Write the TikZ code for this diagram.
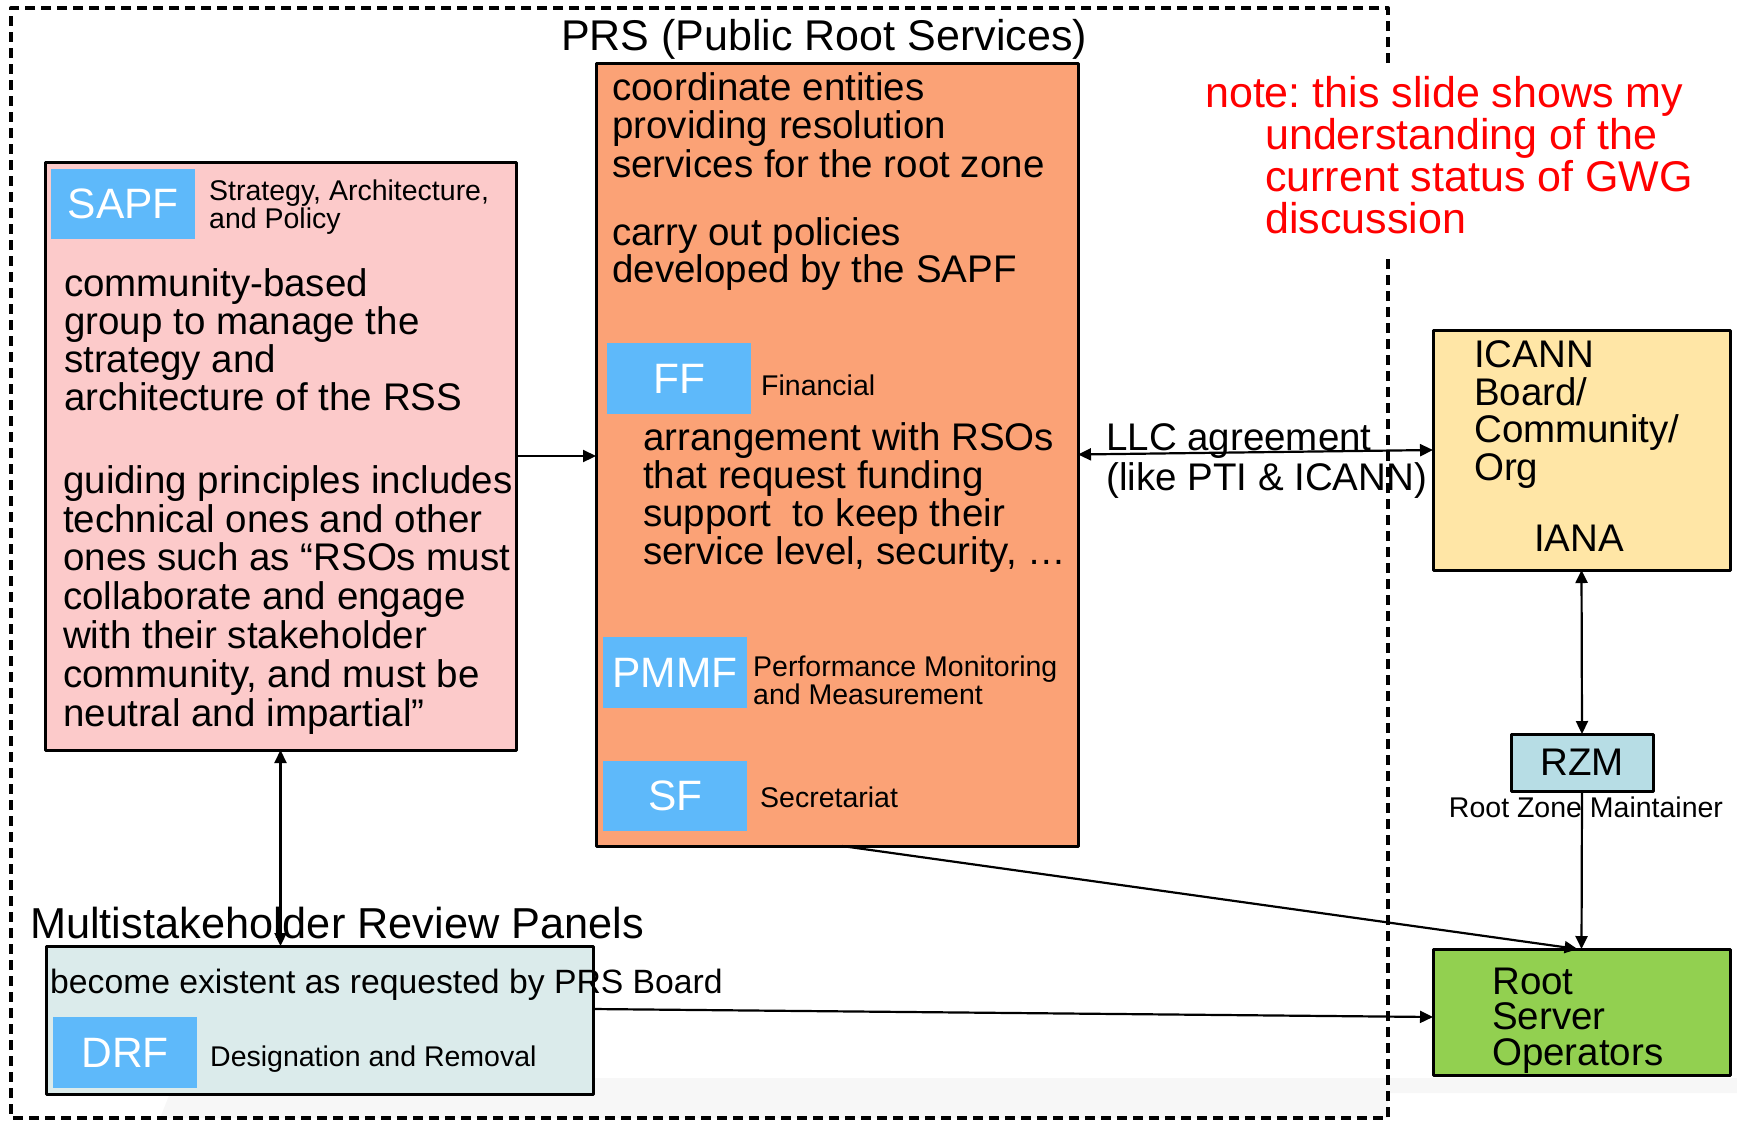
\documentclass[tikz,border=0pt]{standalone}
\usepackage{fontspec}
\setmainfont{Liberation Sans}
\usetikzlibrary{arrows.meta}
\definecolor{sapfpink}{RGB}{252,202,202}
\definecolor{prsorange}{RGB}{251,162,118}
\definecolor{tagblue}{RGB}{94,185,250}
\definecolor{icannyellow}{RGB}{255,230,166}
\definecolor{rzmblue}{RGB}{183,221,229}
\definecolor{rsogreen}{RGB}{146,208,80}
\definecolor{mrpgray}{RGB}{219,235,235}
\newcommand\fs[2]{\fontsize{#1}{#2}\selectfont}
\frenchspacing
\begin{document}
\begin{tikzpicture}[x=1pt,y=-1pt,line join=round,>={Triangle[length=13pt,width=12pt]},
	box/.style={draw,line width=3pt,anchor=north west,inner sep=0,outer sep=0},
	tag/.style={fill=tagblue,text=white,font=\fs{42.5}{42.5},minimum width=144pt,
		minimum height=70pt,anchor=north west,inner sep=0},
	txt/.style={inner sep=0,align=left,anchor=base west},
	big/.style={font=\fs{38.5}{38.5}},
	small/.style={font=\fs{28.5}{28}},
	conn/.style={line width=2.2pt}]
	\useasboundingbox (0,0) rectangle (1737,1120);
	% faint shadow of the slide
	\fill[black!3] (160,1118) -- (176,1078) -- (1737,1078) -- (1737,1093)
	-- (1388,1093) -- (1388,1118) -- cycle;
	% PRS frame
	\draw[line width=3.3pt,dash pattern=on 10pt off 6pt] (1388,63) -- (1388,8)
	-- (11,8) -- (11,1118) -- (1388,1118) -- (1388,259);
	\node[txt,font=\fs{43}{43}] (title) at (561,50) {PRS (Public Root Services)};
	
	% boxes
	\node[box,fill=sapfpink,minimum width=471pt,minimum height=588pt] (sapf) at (45,162) {};
	\node[box,fill=prsorange,minimum width=482pt,minimum height=783pt] (prs) at (596,63) {};
	\node[box,fill=icannyellow,minimum width=297pt,minimum height=240pt] (icann) at (1433,330) {};
	\node[box,fill=rzmblue,minimum width=142pt,minimum height=57pt,big] (rzm) at (1511,734) {RZM};
	\node[box,fill=rsogreen,minimum width=297pt,minimum height=126pt] (rso) at (1433,949) {};
	\node[box,fill=mrpgray,minimum width=547pt,minimum height=148pt] (mrp) at (46,946) {};
	
	% SAPF
	\node[tag] (sapftag) at (51,169) {SAPF};
	\node[txt,small] (sapfname) at (209,228) {Strategy, Architecture,\\and Policy};
	\node[txt,font=\fs{38.5}{37.8}] (sapfa) at (64,410) {community-based\\group to manage the\\strategy and\\architecture of the RSS};
	\node[txt,font=\fs{38.5}{38.8}] (sapfb) at (63,726) {guiding principles includes\\technical ones and other\\ones such as “RSOs must\\collaborate and engage\\with their stakeholder\\community, and must be\\neutral and impartial”};
	
	% PRS
	\node[txt,font=\fs{38.5}{38.3}] (prsa) at (612,177) {coordinate entities\\providing resolution\\services for the root zone};
	\node[txt,font=\fs{38.5}{37}] (prsb) at (612,282) {carry out policies\\developed by the SAPF};
	\node[tag,minimum height=71pt] (fftag) at (607,343) {FF};
	\node[txt,small] (ffname) at (761,395) {Financial};
	\node[txt,font=\fs{38.5}{38}] (ffa) at (643,564) {arrangement with RSOs\\that request funding\\support \ to keep their\\service level, security, …};
	\node[tag,minimum height=71pt] (pmmftag) at (603,637) {PMMF};
	\node[txt,small] (pmmfname) at (753,704) {Performance Monitoring\\and Measurement};
	\node[tag] (sftag) at (603,761) {SF};
	\node[txt,small] (sfname) at (760,807) {Secretariat};
	
	% note
	\node[txt,text=red,font=\fs{43}{42}] (note) at (1205,233) {note: this slide shows my\\\hspace*{60pt}understanding of the\\\hspace*{60pt}current status of GWG\\\hspace*{60pt}discussion};
	
	% ICANN, RZM, RSO
	\node[txt,font=\fs{38.5}{37.5}] (icanna) at (1474,480) {ICANN\\Board/\\Community/\\Org};
	\node[inner sep=0,anchor=base,big] (iana) at (1579,551) {IANA};
	\node[inner sep=0,anchor=base,small] (rzmname) at (1586,817) {Root Zone Maintainer};
	\node[txt,font=\fs{38.5}{35.3}] (rsoa) at (1492,1065) {Root\\Server\\Operators};
	\node[txt,font=\fs{38.5}{40}] (llc) at (1106,490) {LLC agreement\\(like PTI \& ICANN)};
	
	% MRP
	\node[txt,font=\fs{43.3}{43.3}] (mrptitle) at (30,938) {Multistakeholder Review Panels};
	\node[txt,font=\fs{33.7}{33.7}] (mrpa) at (50,993) {become existent as requested by PRS Board};
	\node[tag,minimum height=71pt] (drftag) at (53,1017) {DRF};
	\node[txt,small] (drfname) at (210,1066) {Designation and Removal};
	
	% connectors
	\draw[conn,->] (sapf.east) -- (prs.west |- sapf.east);
	\draw[conn,<->] (prs.east) -- (icann.west);
	\draw[conn,<->] (icann.south) -- (rzm.north);
	\draw[conn,->] (rzm.south) -- (rso.north);
	\draw[conn,->] ([xshift=5pt]prs.south) -- ([xshift=-4pt]rso.north);
	\draw[conn,->] ([yshift=11pt]mrp.east) -- ([yshift=-5pt]rso.west);
	\draw[conn,<->] (sapf.south) -- (mrp.north -| sapf.south);
\end{tikzpicture}
\end{document}
